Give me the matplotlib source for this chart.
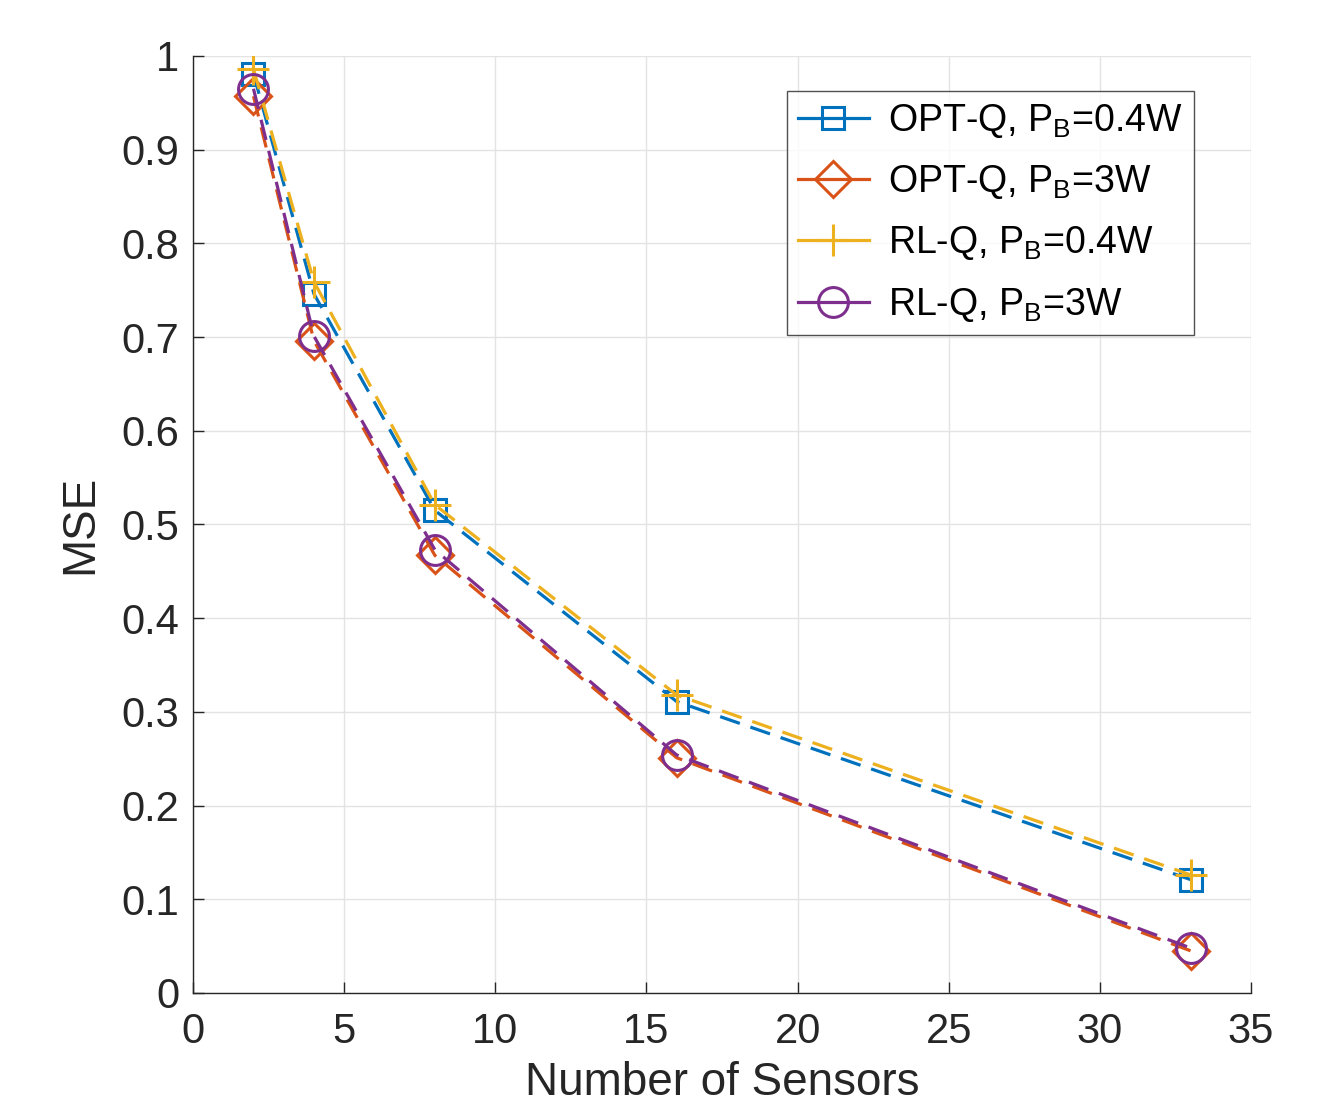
import matplotlib
matplotlib.use("Agg")
import matplotlib.pyplot as plt
from matplotlib.lines import Line2D

plt.rcParams['font.family'] = ['Liberation Sans', 'DejaVu Sans']
plt.rcParams['mathtext.fontset'] = 'custom'
plt.rcParams['mathtext.rm'] = 'Liberation Sans'
plt.rcParams['mathtext.it'] = 'Liberation Sans'

sensors = [2, 4, 8, 16, 33]
opt_q_04 = [0.981, 0.746, 0.515, 0.311, 0.121]
opt_q_3 = [0.957, 0.696, 0.467, 0.251, 0.045]
rl_q_04 = [0.986, 0.759, 0.521, 0.318, 0.126]
rl_q_3 = [0.965, 0.701, 0.473, 0.254, 0.048]

labels = [r"OPT-Q, P$_\mathrm{B}$=0.4W", r"OPT-Q, P$_\mathrm{B}$=3W",
          r"RL-Q, P$_\mathrm{B}$=0.4W", r"RL-Q, P$_\mathrm{B}$=3W"]
colors = ["#0072BD", "#D95319", "#EDB120", "#7E2F8E"]
markers = ["s", "D", "+", "o"]
msizes = [16.5, 18, 23, 21.5]
series = [opt_q_04, opt_q_3, rl_q_04, rl_q_3]

fig = plt.figure(figsize=(13.24, 11.06), dpi=100)
ax = fig.add_axes([0.1458, 0.1022, 0.7991, 0.8472])

handles = []
for y, c, m, ms, lab in zip(series, colors, markers, msizes, labels):
    ax.plot(sensors, y, linestyle=(0, (6.5, 3.5)), color=c, lw=2.3, marker=m,
            markersize=ms, markerfacecolor='none',
            markeredgecolor=c, markeredgewidth=2.2, zorder=3)
    handles.append(Line2D([], [], color=c, lw=2.3, marker=m,
                          markersize=ms,
                          markerfacecolor='none', markeredgecolor=c,
                          markeredgewidth=2.2, label=lab))

ax.set_xlim(0, 35)
ax.set_ylim(0, 1)
ax.set_xticks([0, 5, 10, 15, 20, 25, 30, 35])
ax.set_yticks([0, 0.1, 0.2, 0.3, 0.4, 0.5, 0.6, 0.7, 0.8, 0.9, 1])
ax.set_yticklabels(["0", "0.1", "0.2", "0.3", "0.4", "0.5", "0.6", "0.7", "0.8", "0.9", "1"])
ax.grid(True, color='#e3e3e3', lw=1.0)
ax.set_axisbelow(True)
for s in ['top', 'right']:
    ax.spines[s].set_visible(False)
for s in ['left', 'bottom']:
    ax.spines[s].set_linewidth(1.0)
    ax.spines[s].set_color('#262626')
ax.tick_params(direction='in', length=8, width=1, labelsize=30, pad=10,
               colors='#262626', labelcolor='#262626')
ax.tick_params(axis='x', pad=14)
ax.set_xlabel("Number of Sensors", fontsize=33, labelpad=6, color='#262626')
ax.set_ylabel("MSE", fontsize=33, labelpad=14, color='#262626')

leg = ax.legend(handles=handles, loc='upper right', bbox_to_anchor=(0.946, 0.963),
                fontsize=27, frameon=True, fancybox=False, edgecolor='#262626',
                handlelength=1.9, handletextpad=0.5, labelspacing=0.62,
                borderpad=0.3, borderaxespad=0.0)
leg.get_frame().set_linewidth(1.0)

fig.savefig("out.png", dpi=100)
